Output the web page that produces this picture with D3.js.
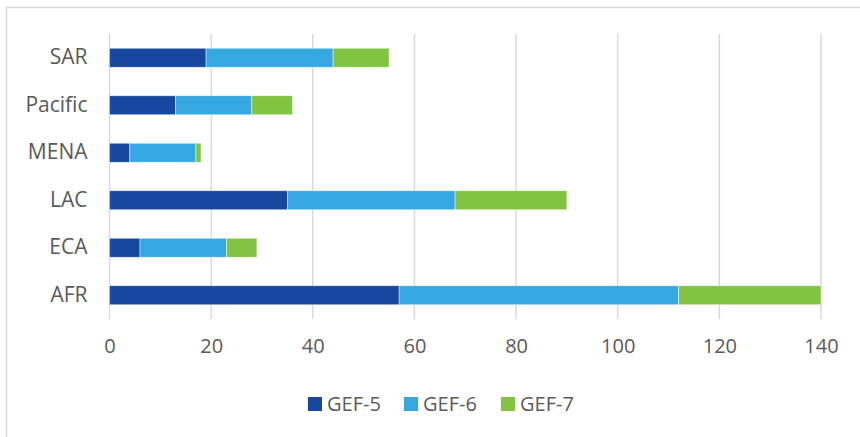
<!DOCTYPE html>
<html>
<head>
<meta charset="utf-8">
<script src="https://cdn.jsdelivr.net/npm/d3@7"></script>
<style>
  body { margin: 0; background: #fff; }
  svg text { font-family: "Open Sans", sans-serif; fill: #595959; }
</style>
</head>
<body>
<svg id="chart" width="860" height="437"></svg>
<script>
'use strict';

// regions listed top to bottom as in the picture
const regions = ['SAR', 'Pacific', 'MENA', 'LAC', 'ECA', 'AFR'];
const series = ['GEF-5', 'GEF-6', 'GEF-7'];
const gef5 = [19, 13, 4, 35, 6, 57];
const gef6 = [25, 15, 13, 33, 17, 55];
const gef7 = [11, 8, 1, 22, 6, 28];
const xTicks = [0, 20, 40, 60, 80, 100, 120, 140];
const colors = ['#17479e', '#35a8df', '#82c341'];

const svg = d3.select('#chart');
const margin = { top: 34, left: 109.5, right: 39, bottom: 118 };
const width = 860 - margin.left - margin.right;
const height = 437 - margin.top - margin.bottom;

// light frame round the chart area
svg.append('rect')
  .attr('x', 6.5).attr('y', 7.5)
  .attr('width', 900).attr('height', 500)
  .attr('fill', 'none')
  .attr('stroke', '#d9d9d9')
  .attr('stroke-width', 1.5);

const g = svg.append('g').attr('transform', `translate(${margin.left},${margin.top})`);

const x = d3.scaleLinear().domain([0, 140]).range([0, width]);
const y = d3.scaleBand().domain(regions).range([0, height]).paddingInner(0.6).paddingOuter(0.3);

// gridlines
g.selectAll('.grid')
  .data(xTicks)
  .enter()
  .append('line')
  .attr('x1', d => x(d))
  .attr('x2', d => x(d))
  .attr('y1', 0)
  .attr('y2', height)
  .attr('stroke', '#d9d9d9')
  .attr('stroke-width', 1.5);

const table = regions.map((r, i) => ({ region: r, 'GEF-5': gef5[i], 'GEF-6': gef6[i], 'GEF-7': gef7[i] }));
const stacked = d3.stack().keys(series)(table);

g.selectAll('.layer')
  .data(stacked)
  .enter()
  .append('g')
  .attr('fill', (d, i) => colors[i])
  .selectAll('rect')
  .data(d => d)
  .enter()
  .append('rect')
  .attr('x', d => x(d[0]))
  .attr('y', d => y(d.data.region))
  .attr('width', d => x(d[1]) - x(d[0]))
  .attr('height', y.bandwidth())
  .attr('stroke', '#ffffff')
  .attr('stroke-opacity', 0.6)
  .attr('stroke-width', 0.75);

// category labels
const yAxis = g.append('g').call(d3.axisLeft(y).tickSize(0).tickPadding(22));
yAxis.select('.domain').remove();
yAxis.selectAll('text').style('font-size', '21px').attr('fill', '#595959');

// value axis labels
const xAxis = g.append('g')
  .attr('transform', `translate(0,${height})`)
  .call(d3.axisBottom(x).tickValues(xTicks).tickSize(0).tickPadding(20));
xAxis.select('.domain').remove();
xAxis.selectAll('text').style('font-size', '20px').attr('fill', '#595959');

// legend
const legendX = [308, 404, 501];
const legend = svg.append('g').selectAll('g')
  .data(series)
  .enter()
  .append('g')
  .attr('transform', (d, i) => `translate(${legendX[i]},397)`);
legend.append('rect')
  .attr('width', 14).attr('height', 14)
  .attr('fill', (d, i) => colors[i]);
legend.append('text')
  .attr('x', 19).attr('y', 7)
  .attr('dy', '0.35em')
  .style('font-size', '20px')
  .text(d => d);
</script>
</body>
</html>
